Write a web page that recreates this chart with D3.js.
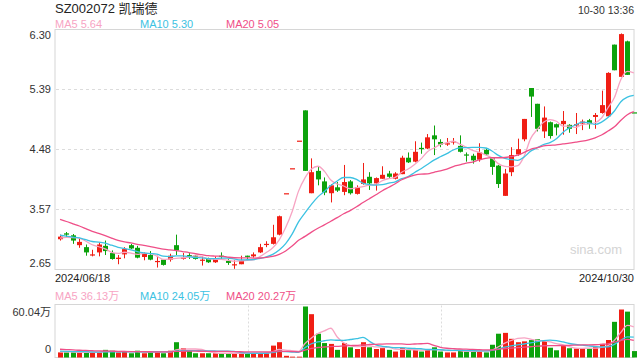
<!DOCTYPE html>
<html>
<head>
<meta charset="utf-8">
<script src="https://cdn.jsdelivr.net/npm/d3@7"></script>
<style>
  html, body { margin: 0; padding: 0; background: #fff; }
  svg { display: block; font-family: Arial, "Liberation Sans", "Noto Sans CJK SC", sans-serif; }
</style>
</head>
<body>
<div id="chart"></div>
<script>
const code = 'SZ002072';
const stockName = '凯瑞德';
const stamp = '10-30 13:36';

const dates = [
  '2024/06/18','2024/06/19','2024/06/20','2024/06/21','2024/06/24','2024/06/25','2024/06/26','2024/06/27','2024/06/28',
  '2024/07/01','2024/07/02','2024/07/03','2024/07/04','2024/07/05','2024/07/08','2024/07/09','2024/07/10','2024/07/11',
  '2024/07/12','2024/07/15','2024/07/16','2024/07/17','2024/07/18','2024/07/19','2024/07/22','2024/07/23','2024/07/24',
  '2024/07/25','2024/07/26','2024/07/29','2024/07/30','2024/07/31',
  '2024/08/01','2024/08/02','2024/08/05','2024/08/06','2024/08/07','2024/08/08','2024/08/09','2024/08/12','2024/08/13',
  '2024/08/14','2024/08/15','2024/08/16','2024/08/19','2024/08/20','2024/08/21','2024/08/22','2024/08/23','2024/08/26',
  '2024/08/27','2024/08/28','2024/08/29','2024/08/30',
  '2024/09/02','2024/09/03','2024/09/04','2024/09/05','2024/09/06','2024/09/09','2024/09/10','2024/09/11','2024/09/12',
  '2024/09/13','2024/09/18','2024/09/19','2024/09/20','2024/09/23','2024/09/24','2024/09/25','2024/09/26','2024/09/27',
  '2024/09/30',
  '2024/10/08','2024/10/09','2024/10/10','2024/10/11','2024/10/14','2024/10/15','2024/10/16','2024/10/17','2024/10/18',
  '2024/10/21','2024/10/22','2024/10/23','2024/10/24','2024/10/25','2024/10/28','2024/10/29','2024/10/30'
];

const open = [
  3.11,3.20,3.17,3.02,2.99,2.87,2.91,3.01,2.90,2.81,
  2.88,3.02,2.98,2.84,2.87,2.77,2.80,2.80,3.02,2.82,
  2.87,2.86,2.79,2.81,2.76,2.86,2.78,2.72,2.73,2.86,
  2.85,2.91,3.03,3.04,3.18,3.81,4.19,4.61,5.07,3.81,
  4.15,3.99,3.81,3.90,3.83,3.99,3.80,3.95,4.06,3.96,
  4.03,4.11,4.03,4.10,4.35,4.29,4.50,4.49,4.69,4.59,
  4.55,4.59,4.53,4.40,4.38,4.32,4.47,4.34,4.23,3.77,
  4.13,4.40,4.63,5.41,5.17,4.75,4.89,4.86,4.86,4.85,
  4.84,4.87,4.92,4.97,5.03,4.98,6.07,5.58,6.12,5.04
];
const high = [
  3.18,3.22,3.19,3.12,3.03,2.95,3.06,3.09,2.94,2.87,
  2.99,3.04,3.01,2.91,2.93,2.86,2.81,2.89,3.18,2.90,
  2.90,2.87,2.85,2.83,2.85,2.91,2.81,2.79,2.86,2.86,
  2.91,3.04,3.08,3.33,3.47,3.81,4.19,4.61,5.07,4.34,
  4.21,4.05,3.95,3.98,4.24,4.01,3.93,4.27,4.13,4.05,
  4.22,4.15,4.13,4.38,4.43,4.60,4.58,4.71,4.84,4.63,
  4.65,4.65,4.69,4.43,4.41,4.57,4.50,4.36,4.24,4.18,
  4.51,4.64,4.94,5.41,5.17,5.13,4.90,4.87,5.06,4.86,
  5.03,4.93,4.94,5.03,5.37,5.65,6.07,6.24,6.13,5.04
];
const low = [
  3.09,3.14,3.04,2.98,2.86,2.85,2.85,2.87,2.80,2.73,
  2.82,2.96,2.82,2.79,2.79,2.68,2.71,2.77,2.87,2.80,
  2.81,2.80,2.71,2.75,2.75,2.81,2.72,2.66,2.73,2.79,
  2.83,2.90,2.99,3.03,3.17,3.81,4.19,4.61,4.15,3.81,
  3.93,3.78,3.67,3.83,3.78,3.79,3.79,3.94,3.86,3.85,
  4.03,4.03,4.02,4.10,4.27,4.28,4.41,4.48,4.39,4.51,
  4.53,4.55,4.43,4.29,4.26,4.29,4.38,4.09,3.89,3.77,
  4.07,4.38,4.60,4.97,4.75,4.65,4.64,4.69,4.70,4.73,
  4.71,4.77,4.79,4.79,5.02,4.98,5.68,5.58,5.61,5.04
];
const close = [
  3.15,3.18,3.09,3.07,2.91,2.88,3.03,2.93,2.81,2.83,
  2.96,2.97,2.83,2.89,2.80,2.78,2.72,2.86,2.94,2.83,
  2.85,2.81,2.80,2.76,2.81,2.84,2.75,2.73,2.78,2.85,
  2.88,2.99,3.04,3.14,3.46,3.81,4.19,4.61,4.15,4.13,
  4.02,3.82,3.93,3.85,3.98,3.81,3.90,4.02,3.96,4.04,
  4.09,4.06,4.11,4.35,4.28,4.44,4.48,4.66,4.63,4.55,
  4.57,4.60,4.44,4.39,4.31,4.43,4.40,4.21,3.95,4.11,
  4.39,4.48,4.94,5.28,4.79,4.96,4.68,4.81,4.91,4.79,
  4.86,4.90,4.86,5.00,5.15,5.64,5.68,6.23,5.61,5.04
];
// volume in 万
const volume = [
  6,6,6,6,7,6,6,9,8,6,
  7,5,8,5,7,7,5,8,18,11,
  8,5,5,5,5,5,5,5,5,5,
  5,5,5,14,18,2,1,1,60.04,51,
  28,17,16,9,17,12,10,18,12,10,
  11,9,7,11,9,9,7,9,12,7,
  6,6,9,8,7,7,6,15,28,29,
  22,18,19,20.5,21.5,19.5,11.5,8.5,13.5,10.9,
  10.5,10.5,10.3,12.5,16.05,20.6,42,56.5,54,7.55
];
// sessions before 06/18, only used to seed the moving averages
const priorCloses = [3.80,3.78,3.75,3.72,3.70,3.66,3.60,3.55,3.50,3.45,3.30,3.25,3.20,3.18,3.15,3.12,3.10,3.12,3.14];
const priorVolumes = [14,12,15,11,13,12,10,11,12,9,8,9,7,8,9,7,6,8,7];

const priceTicks = [2.65, 3.57, 4.48, 5.39, 6.30];
const maPeriods = [5, 10, 20];
const maColors = ['#f7a4c3', '#3cc2e2', '#ef4f88'];
const upColor = '#f01e14';
const downColor = '#0ca20c';

const W = 640;
const H = 360;
const plot = { l: 55, r: 634, t: 29.5, b: 269.5 };
const vol = { t: 304.5, b: 357.5 };

function movingAvg(prior, values, n) {
  const all = prior.concat(values);
  const off = prior.length;
  return values.map((v, i) => d3.mean(all.slice(off + i - n + 1, off + i + 1)));
}

const svg = d3.select('#chart').append('svg')
  .attr('width', W)
  .attr('height', H);

// Scales
const x = d3.scaleBand()
  .domain(dates)
  .range([56.8, 637])
  .paddingInner(0.28)
  .paddingOuter(0.14);
const cx = d => x(d) + x.bandwidth() / 2;

const y = d3.scaleLinear()
  .domain([priceTicks[0], priceTicks[priceTicks.length - 1]])
  .range([plot.b, plot.t]);

const yVol = d3.scaleLinear()
  .domain([0, d3.max(volume)])
  .range([vol.b, vol.t + 2]);

const rows = dates.map((d, i) => ({
  d, o: open[i], h: high[i], l: low[i], c: close[i], v: volume[i],
  up: close[i] > open[i] || (close[i] === open[i] && close[i] >= (i ? close[i - 1] : open[i]))
}));

// Header
svg.append('text')
  .attr('x', 55).attr('y', 13)
  .attr('font-size', 13).attr('fill', '#222')
  .text(code + ' ' + stockName);

svg.append('text')
  .attr('x', plot.r).attr('y', 14)
  .attr('text-anchor', 'end')
  .attr('font-size', 10.5).attr('fill', '#333')
  .text(stamp);

const priceMA = maPeriods.map(n => movingAvg(priorCloses, close, n));
const volMA = maPeriods.map(n => movingAvg(priorVolumes, volume, n));
const legendX = [55, 140, 226];

maPeriods.forEach((n, k) => {
  svg.append('text')
    .attr('x', legendX[k]).attr('y', 28)
    .attr('font-size', 11).attr('fill', maColors[k])
    .text('MA' + n + ' ' + priceMA[k][priceMA[k].length - 1].toFixed(2));
  svg.append('text')
    .attr('x', legendX[k]).attr('y', 300)
    .attr('font-size', 11).attr('fill', maColors[k])
    .text('MA' + n + ' ' + volMA[k][volMA[k].length - 1].toFixed(2) + '万');
});

// Price frame and grid
svg.append('rect')
  .attr('x', plot.l).attr('y', plot.t)
  .attr('width', plot.r - plot.l).attr('height', plot.b - plot.t)
  .attr('fill', 'none').attr('stroke', '#d6d6d6');

svg.append('g')
  .selectAll('line')
  .data(priceTicks.slice(1, -1))
  .join('line')
  .attr('x1', plot.l + 1).attr('x2', plot.r - 1)
  .attr('y1', d => Math.round(y(d)) + 0.5).attr('y2', d => Math.round(y(d)) + 0.5)
  .attr('stroke', '#dcdcdc')
  .attr('stroke-dasharray', '3,3');

svg.append('g')
  .selectAll('text')
  .data(priceTicks)
  .join('text')
  .attr('x', 51)
  .attr('y', (d, i) => y(d) + (i === priceTicks.length - 1 ? 6 : i === 0 ? -6 : 0))
  .attr('dy', '0.35em')
  .attr('text-anchor', 'end')
  .attr('font-size', 11).attr('fill', '#333')
  .text(d => d.toFixed(2));

svg.append('text')
  .attr('x', 622).attr('y', 254)
  .attr('text-anchor', 'end')
  .attr('font-size', 13).attr('fill', '#d4d4d4')
  .text('sina.com');

// Candles
const candles = svg.append('g').attr('class', 'candles');
const candle = candles.selectAll('g')
  .data(rows)
  .join('g');

candle.append('line')
  .attr('x1', d => Math.round(cx(d.d)) + 0.5)
  .attr('x2', d => Math.round(cx(d.d)) + 0.5)
  .attr('y1', d => y(d.h))
  .attr('y2', d => y(d.l))
  .attr('stroke', d => d.up ? upColor : downColor)
  .attr('stroke-width', 1);

candle.append('rect')
  .attr('x', d => Math.round(cx(d.d)) - 2)
  .attr('width', 5)
  .attr('y', d => y(Math.max(d.o, d.c)))
  .attr('height', d => Math.max(1.2, Math.abs(y(d.o) - y(d.c))))
  .attr('fill', d => d.up ? upColor : downColor);

// MA lines
const line = d3.line()
  .x((v, i) => cx(dates[i]))
  .curve(d3.curveMonotoneX);

priceMA.forEach((arr, k) => {
  svg.append('path')
    .datum(arr)
    .attr('fill', 'none')
    .attr('stroke', maColors[k])
    .attr('stroke-width', 1.3)
    .attr('d', line.y(v => y(v)));
});

// Dates
svg.append('text')
  .attr('x', plot.l).attr('y', 282)
  .attr('font-size', 11).attr('fill', '#222')
  .text(dates[0]);
svg.append('text')
  .attr('x', plot.r).attr('y', 282)
  .attr('text-anchor', 'end')
  .attr('font-size', 11).attr('fill', '#222')
  .text(dates[dates.length - 1]);

// Volume panel
svg.append('rect')
  .attr('x', plot.l).attr('y', vol.t)
  .attr('width', plot.r - plot.l).attr('height', vol.b - vol.t)
  .attr('fill', 'none').attr('stroke', '#d6d6d6');

svg.append('g')
  .selectAll('line')
  .data([1, 2])
  .join('line')
  .attr('x1', k => Math.round(plot.l + (plot.r - plot.l) * k / 3) + 0.5)
  .attr('x2', k => Math.round(plot.l + (plot.r - plot.l) * k / 3) + 0.5)
  .attr('y1', vol.t + 1).attr('y2', vol.b - 1)
  .attr('stroke', '#dcdcdc')
  .attr('stroke-dasharray', '2,2');

svg.append('text')
  .attr('x', 51).attr('y', vol.t + 8)
  .attr('dy', '0.35em')
  .attr('text-anchor', 'end')
  .attr('font-size', 11).attr('fill', '#333')
  .text(d3.max(volume).toFixed(2) + '万');
svg.append('text')
  .attr('x', 51).attr('y', vol.b - 8)
  .attr('dy', '0.35em')
  .attr('text-anchor', 'end')
  .attr('font-size', 11).attr('fill', '#333')
  .text('0');

svg.append('g')
  .selectAll('rect')
  .data(rows)
  .join('rect')
  .attr('x', d => Math.round(cx(d.d)) - 2)
  .attr('width', 5)
  .attr('y', d => yVol(d.v))
  .attr('height', d => vol.b - yVol(d.v))
  .attr('fill', d => d.up ? upColor : downColor);

volMA.forEach((arr, k) => {
  svg.append('path')
    .datum(arr)
    .attr('fill', 'none')
    .attr('stroke', maColors[k])
    .attr('stroke-width', 1.3)
    .attr('d', line.y(v => yVol(v)));
});
</script>
</body>
</html>
